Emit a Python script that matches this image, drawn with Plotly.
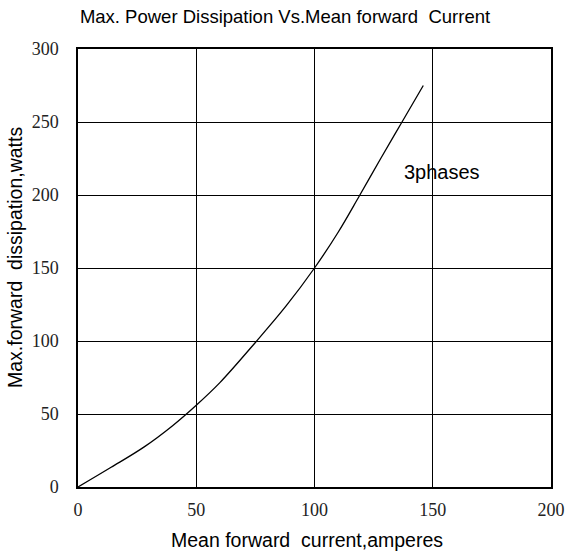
import plotly.graph_objects as go

current = [0, 14, 28, 40, 50, 60, 75, 88, 100, 110, 119, 128, 137, 146]
power = [0, 13.5, 27.5, 42, 56, 71.5, 99, 124, 150, 174.5, 199.5, 225, 250, 275]
x_ticks = [0, 50, 100, 150, 200]
y_ticks = [0, 50, 100, 150, 200, 250, 300]

W, H = 567, 551
L, T, R, B = 78, 49, 16, 64
pw, ph = W - L - R, H - T - B

sans = "Liberation Sans, Arial"
serif = "Liberation Serif, Times New Roman"

fig = go.Figure()
fig.add_trace(go.Scatter(x=current, y=power, mode="lines",
                         line=dict(color="black", width=1.3, shape="spline", smoothing=1.0),
                         showlegend=False, hoverinfo="skip"))
fig.add_annotation(x=154, y=216, text="3phases", showarrow=False,
                   font=dict(family=sans, size=20, color="black"))
# axis titles (positions given in page pixels)
fig.add_annotation(xref="paper", yref="paper", x=(307 - L) / pw, y=-(540 - (T + ph)) / ph,
                   xanchor="center", yanchor="middle", showarrow=False,
                   text="Mean forward  current,amperes", font=dict(family=sans, size=19.5, color="black"))
fig.add_annotation(xref="paper", yref="paper", x=(15 - L) / pw, y=(T + ph - 258) / ph,
                   xanchor="center", yanchor="middle", showarrow=False, textangle=-90,
                   text="Max.forward  dissipation,watts", font=dict(family=sans, size=19.5, color="black"))

axis_common = dict(showgrid=True, gridcolor="black", gridwidth=1.2, showline=True, linecolor="black",
                   linewidth=1.5, mirror=True, zeroline=False, ticks="", automargin=False,
                   tickfont=dict(family=serif, size=18, color="#222"))
fig.update_xaxes(range=[0, 200], tickvals=x_ticks, ticklabelstandoff=6, **axis_common)
fig.update_yaxes(range=[0, 300], tickvals=y_ticks, ticklabelstandoff=14, **axis_common)
fig.update_layout(width=W, height=H, margin=dict(l=L, r=R, t=T, b=B, autoexpand=False),
                  plot_bgcolor="white", paper_bgcolor="white",
                  title=dict(text="Max. Power Dissipation Vs.Mean forward  Current", x=285 / W,
                             xanchor="center", y=1 - 17 / H, yanchor="middle",
                             font=dict(family=sans, size=18.5, color="black")))
# remove the browser's default 8px page margin so the figure fills the window exactly
fig.write_html("out.html", config={"displayModeBar": False},
               post_script="document.body.style.margin='0';document.body.style.overflow='hidden';")
